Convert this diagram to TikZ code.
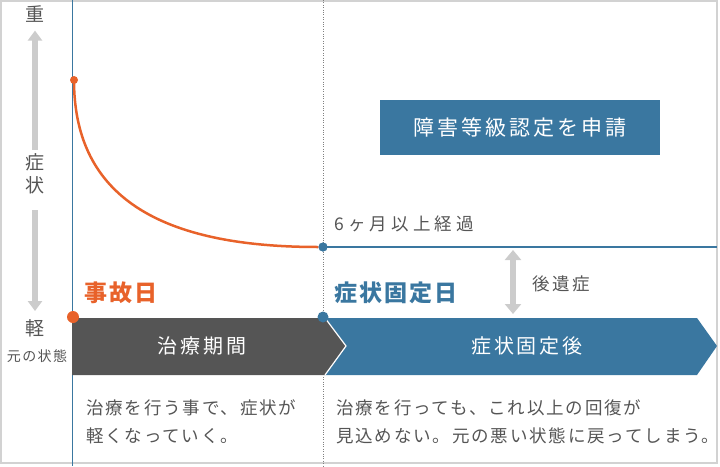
\documentclass[tikz,border=0pt]{standalone}
\usepackage{fontspec}
\setmainfont{Noto Sans CJK JP}
\usepackage{tikz}
\usetikzlibrary{arrows.meta,positioning}

\definecolor{accorange}{HTML}{E8622A}
\definecolor{fixblue}{HTML}{3A77A0}
\definecolor{bardark}{HTML}{555555}
\definecolor{txtgray}{HTML}{555555}
\definecolor{arrowgray}{HTML}{CCCCCC}
\definecolor{framegray}{HTML}{D2D2D2}

\tikzset{
  axislbl/.style={inner sep=0pt,text=txtgray,font=\fontsize{19}{23}\selectfont},
  smalllbl/.style={inner sep=0pt,text=txtgray,font=\fontsize{14}{16}\selectfont\addfontfeature{LetterSpace=10}},
  noteline/.style={inner sep=0pt,anchor=west,align=left,text=txtgray,
    font=\fontsize{17.5}{28}\selectfont\addfontfeature{LetterSpace=10.5}},
  daylbl/.style={inner sep=0pt,anchor=west,font=\fontsize{23}{25}\selectfont\bfseries\addfontfeature{LetterSpace=9}},
  bandtext/.style={inner sep=0pt,text=white,font=\fontsize{20}{22}\selectfont\addfontfeature{LetterSpace=14}},
  applybox/.style={fill=fixblue,text=white,minimum width=280pt,minimum height=55pt,
    font=\fontsize{21}{23}\selectfont\addfontfeature{LetterSpace=14}},
  dot/.style={circle,inner sep=0pt},
  graybar/.style={draw=arrowgray,line width=6.5pt,-{Triangle[width=14pt,length=10pt]}},
  graybars/.style={draw=arrowgray,line width=6.5pt,{Triangle[width=16pt,length=10pt]}-{Triangle[width=16pt,length=10pt]}}
}

\begin{document}
\begin{tikzpicture}[x=1pt,y=-1pt]
  \useasboundingbox (0,0) rectangle (720,466);
  \draw[framegray,line width=1.5pt] (0.75,0.75) rectangle (717,463);

  % axis
  \draw[fixblue,line width=1pt] (72,0) -- (72,466);
  \draw[gray,dotted] (323,0) -- (323,466);
  \node[axislbl] (heavy) at (35,14) {重};
  \node[axislbl,align=center] (symp) at (35,174) {症\\状};
  \node[axislbl] (light) at (35,328) {軽};
  \node[smalllbl] (orig) at (37,356) {元の状態};
  \draw[graybar,shorten <=4pt,shorten >=8pt] (symp.north) -- (heavy.south);
  \draw[graybar,shorten <=16pt,shorten >=8pt] (symp.south) -- (light.north);

  % bands
  \fill[fixblue] (325,318) -- (697,318) -- (717,346) -- (697,375) -- (325,375) -- (346,346) -- cycle;
  \fill[bardark] (72,318) -- (325,318) -- (346,346) -- (325,375) -- (72,375) -- cycle;
  \draw[white,line width=1.2pt] (325,318) -- (346,346) -- (325,375);
  \node[bandtext] (treat) at (202,346) {治療期間};
  \node[bandtext] (after) at (527,346) {症状固定後};

  % curve
  \node[dot,fill=accorange,minimum size=8pt] (start) at (74,80) {};
  \node[dot,fill=fixblue,minimum size=9pt] (fixpt) at (323,247) {};
  \coordinate (lineend) at (717,247);
  \draw[fixblue,line width=2.5pt] (fixpt.center) -- (lineend);
  \draw[accorange,line width=2.5pt] (start.center) .. controls (74,190) and (150,247) .. (fixpt.west);
  \node[dot,fill=fixblue,minimum size=9pt] at (fixpt) {};
  \node[noteline,font=\fontsize{17.5}{20}\selectfont\addfontfeature{LetterSpace=24}] (months) at (334,224) {6ヶ月以上経過};
  \node[applybox] (apply) at (520,127.5) {障害等級認定を申請};

  % after effect
  \coordinate (aftertop) at (513,250);
  \coordinate (afterbot) at (513,314);
  \draw[graybars] (aftertop) -- (afterbot);
  \node[noteline,font=\fontsize{17.5}{20}\selectfont\addfontfeature{LetterSpace=14}] (effect) at (532,284) {後遺症};

  % days
  \node[dot,fill=accorange,minimum size=12pt] (accident) at (73,317) {};
  \node[dot,fill=fixblue,minimum size=11pt] (fixday) at (323,317) {};
  \node[daylbl,text=accorange] (acclbl) at (84,293) {事故日};
  \node[daylbl,text=fixblue] (fixlbl) at (334,293) {症状固定日};

  % notes
  \node[noteline] (notea) at (86,422) {治療を行う事で、症状が\\軽くなっていく。};
  \node[noteline] (noteb) at (336,422) {治療を行っても、これ以上の回復が\\見込めない。元の悪い状態に戻ってしまう。};
\end{tikzpicture}
\end{document}
